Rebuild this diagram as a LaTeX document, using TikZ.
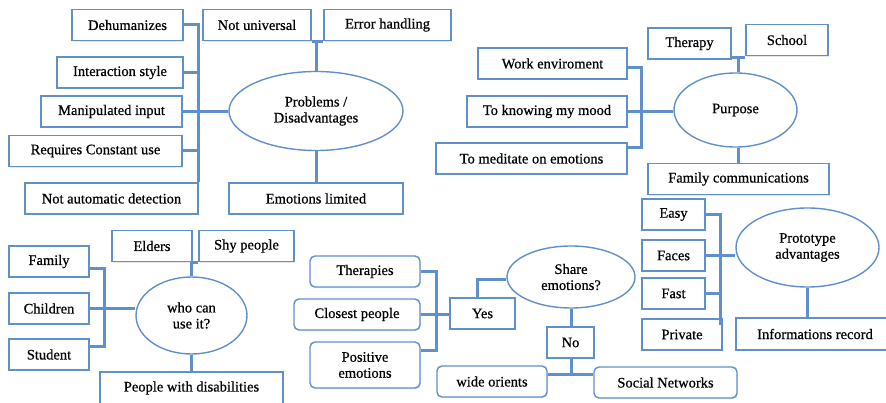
\documentclass[tikz,border=0pt]{standalone}
\usepackage{fontspec}
\setmainfont{Liberation Serif}[FakeBold=0.6]
\usetikzlibrary{shapes.geometric,shadows}
\definecolor{mapblue}{HTML}{5F90CB}

\begin{document}
\begin{tikzpicture}[x=1pt, y=-1pt,
  font=\fontsize{14.5}{16}\selectfont,
  box/.style={draw=mapblue, line width=1.4pt, fill=white, align=center, inner sep=0pt,
              minimum height=31pt, minimum width=#1pt,
              drop shadow={opacity=0.18, shadow xshift=1pt, shadow yshift=-1.2pt}},
  box/.default=80,
  rbox/.style={box=#1, rounded corners=5pt},
  topic/.style={draw=mapblue, line width=1.4pt, fill=white, ellipse, align=center, inner sep=0pt},
  link/.style={mapblue, line width=3pt}]
\useasboundingbox (0,0) rectangle (886,403);
% problems
\node[topic, minimum width=174pt, minimum height=79pt] (probl) at (316,111) {Problems /\\Disadvantages};
\node[box=111] (dehum)   at (127.5,25)  {Dehumanizes};
\node[box=108] (notuni)  at (257,25)    {Not universal};
\node[box=127] (errh)    at (387.5,25)  {Error handling};
\node[box=126] (inter)   at (120,72.5)  {Interaction style};
\node[box=141] (manip)   at (111.5,111.5) {Manipulated input};
\node[box=173] (reqs)    at (95.5,151)  {Requires Constant use};
\node[box=173] (notauto) at (111.5,198.5) {Not automatic detection};
\node[box=174] (emolim)  at (316,198.5) {Emotions limited};
% purpose
\node[topic, minimum width=123pt, minimum height=74pt] (purpose) at (735.5,110) {Purpose};
\node[box=83]  (therapy) at (689.5,43.5) {Therapy};
\node[box=82]  (school)  at (787,40)     {School};
\node[box=149] (work)    at (552.5,63.5) {Work enviroment};
\node[box=160] (mood)    at (547,111.5)  {To knowing my mood};
\node[box=191] (medit)   at (531.5,158.5) {To meditate on emotions};
\node[box=181] (famcom)  at (738.5,179)  {Family communications};
% who can use it
\node[topic, minimum width=111pt, minimum height=77pt] (who) at (191.5,315.5) {who can\\use it?};
\node[box=80]  (elders)   at (152,246)   {Elders};
\node[box=95]  (shy)      at (246.5,246) {Shy people};
\node[box=80]  (family)   at (49,261.5)  {Family};
\node[box=80]  (children) at (49,308.5)  {Children};
\node[box=80]  (student)  at (49,354.5)  {Student};
\node[box=183, minimum height=32pt] (pwd) at (191.5,388) {People with disabilities};
% share emotions
\node[topic, minimum width=128pt, minimum height=62pt] (share) at (571,277) {Share\\emotions?};
\node[rbox=110] (therapies) at (365,271.5) {Therapies};
\node[rbox=126] (closest)   at (357,314.5) {Closest people};
\node[rbox=110, minimum height=46pt] (positive) at (365,365) {Positive\\emotions};
\node[box=65]   (yes)       at (482.5,313.5) {Yes};
\node[box=47]   (no)        at (570.5,342.5) {No};
\node[rbox=110] (wide)      at (492,381.5) {wide orients};
\node[rbox=143] (social)    at (665.5,382.5) {Social Networks};
% prototype advantages
\node[topic, minimum width=143pt, minimum height=79pt] (proto) at (807.5,247.5) {Prototype\\advantages};
\node[box=63]  (easy)    at (673.5,214.5) {Easy};
\node[box=63]  (faces)   at (673.5,255.5) {Faces};
\node[box=63]  (fast)    at (673.5,293.5) {Fast};
\node[box=80]  (private) at (682,334.5)   {Private};
\node[box=158, minimum height=32pt] (info) at (815,334) {Informations record};
% connectors
\draw[link] (dehum.east) -- (dehum.east -| notauto.north east) -- (notauto.north east);
\foreach \n in {inter, reqs} \draw[link] (\n.east) -- (\n.east -| notauto.north east);
\draw[link] (manip.east) -- (manip.east -| probl.west);
\draw[link] (probl.north) -- (probl.north |- notuni.south);
\draw[link] (notuni.south east) -- (errh.south west);
\draw[link] (probl.south) -- (emolim.north);
\coordinate (pb1) at (641,68);
\coordinate (pb2) at (641,148);
\draw[link] (work.east |- pb1) -- (pb1) -- (pb2) -- (medit.east |- pb2);
\draw[link] (mood.east) -- (mood.east -| purpose.west);
\coordinate (pt) at (738,57.5);
\draw[link] (purpose.north -| pt) -- (pt);
\draw[link] (therapy.east |- pt) -- (school.west |- pt);
\draw[link] (purpose.south -| pt) -- (pt |- famcom.north);
\coordinate (wb1) at (104,269);
\coordinate (wb2) at (104,346);
\draw[link] (family.east |- wb1) -- (wb1) -- (wb2) -- (student.east |- wb2);
\draw[link] (children.east) -- (children.east -| who.west);
\draw[link] (who.north) -- (who.north |- elders.south);
\draw[link] (elders.south east) -- (shy.south west);
\draw[link] (who.south) -- (pwd.north);
\coordinate (sb) at (436,350);
\draw[link] (therapies.east) -| (sb) -- (positive.east |- sb);
\draw[link] (closest.east) -- (closest.east -| yes.west);
\coordinate (yk) at (477,280);
\draw[link] (yes.north -| yk) -- (yk) -- (share.west |- yk);
\draw[link] (share.south) -- (share.south |- no.north);
\coordinate (nk) at (571,374);
\draw[link] (no.south -| nk) -- (nk);
\draw[link] (wide.east |- nk) -- (social.west |- nk);
\coordinate (ab) at (720,325);
\draw[link] (easy.east) -| (ab);
\draw[link] (faces.east) -- (faces.east -| proto.west);
\draw[link] (fast.east) -- (fast.east -| ab);
\draw[link] (proto.south) -- (proto.south |- info.north);
\end{tikzpicture}
\end{document}
